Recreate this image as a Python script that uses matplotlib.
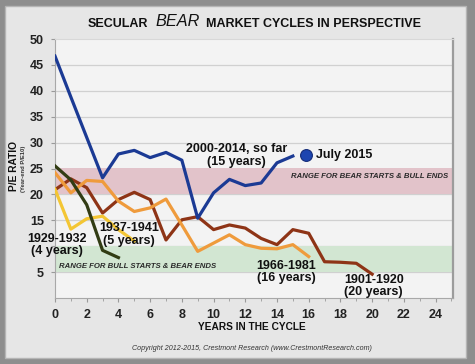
#!/usr/bin/env python

import matplotlib
matplotlib.use('Agg')
import matplotlib.pyplot as plt
from matplotlib.patches import Rectangle

plt.rcParams['font.family'] = ['Liberation Sans', 'DejaVu Sans']

W, H = 475, 364

# P/E10 by year in each secular bear cycle
years_1901 = list(range(21))
pe_1901 = [20.9, 23.0, 21.3, 16.4, 19.0, 20.4, 19.0, 11.2, 15.1, 15.7, 13.2,
           14.1, 13.5, 11.5, 10.3, 13.2, 12.5, 7.0, 6.9, 6.7, 4.6]
years_1966 = list(range(17))
pe_1966 = [24.2, 20.3, 22.7, 22.5, 18.7, 16.7, 17.4, 19.1, 14.1, 9.0, 10.6,
           12.2, 10.3, 9.6, 9.5, 10.3, 8.0]
years_1937 = list(range(6))
pe_1937 = [21.0, 13.3, 15.3, 15.8, 13.2, 11.0]
years_1929 = list(range(5))
pe_1929 = [25.5, 22.8, 18.0, 9.2, 7.8]
years_2000 = list(range(16))
pe_2000 = [46.7, 38.8, 31.0, 23.2, 27.8, 28.5, 27.1, 28.1, 26.6, 15.4, 20.3,
           22.9, 21.7, 22.2, 26.1, 27.4]
july_2015 = (15.8, 27.7)

bear_band = (20, 25)
bull_band = (5, 10)
y_ticks = [5, 10, 15, 20, 25, 30, 35, 40, 45, 50]
y_ticklabels = ['5', '', '15', '20', '25', '30', '35', '40', '45', '50']


def px(x, y):
    # figure pixel (from top-left) -> figure fraction
    return x / W, 1 - y / H


def main():
    fig = plt.figure(figsize=(W / 100, H / 100), dpi=100)
    fig.patch.set_facecolor('#8e8e8e')
    fig.patches.append(Rectangle(px(5, 358), 461 / W, 352 / H,
                                 transform=fig.transFigure,
                                 facecolor='#e6e6e6', edgecolor='#b5b5b5',
                                 lw=1, zorder=-10))

    l, b = px(55, 298)
    r, t = px(453, 39)
    ax = fig.add_axes([l, b, r - l, t - b])
    ax.set_zorder(1)
    ax.set_facecolor('#f3f3f3')
    ax.set_xlim(0, 25.1)
    ax.set_ylim(0, 50)

    ax.axhspan(*bear_band, color='#e2c3ca', lw=0, zorder=1)
    ax.axhspan(*bull_band, color='#d2e6d2', lw=0, zorder=1)
    for y in range(5, 50, 5):
        ax.axhline(y, color='#d0d0d0', lw=0.9, zorder=0.5)

    lw = 2.3
    ax.plot(years_1901, pe_1901, color='#8e3416', lw=lw, zorder=3)
    ax.plot(years_1966, pe_1966, color='#ef9b3c', lw=lw, zorder=3)
    ax.plot(years_1937, pe_1937, color='#f3c634', lw=lw, zorder=3)
    ax.plot(years_1929, pe_1929, color='#323c14', lw=lw, zorder=3)
    ax.plot(years_2000, pe_2000, color='#1b3a94', lw=lw, zorder=4)
    ax.plot(*july_2015, 'o', ms=8.5, color='#1d45b0', mec='#152c78',
            mew=0.8, zorder=5)

    ax.set_xticks(range(0, 25, 2))
    ax.set_xticks(range(0, 26), minor=True)
    ax.set_yticks(y_ticks)
    ax.set_yticklabels(y_ticklabels)
    ax.tick_params(labelsize=9, colors='#9a9a9a', labelcolor='#222222',
                   length=3, width=0.8, pad=5)
    ax.tick_params(which='minor', length=2, colors='#9a9a9a')
    for lab in ax.get_xticklabels() + ax.get_yticklabels():
        lab.set_fontweight('bold')

    for side in ['left', 'bottom']:
        ax.spines[side].set_color('#a8a8a8')
    ax.spines['top'].set_color('#d8d8d8')
    ax.spines['right'].set_color('#9c9c9c')
    ax.spines['right'].set_linewidth(1.6)

    tk = dict(fontsize=9, fontweight='bold', color='#111111', zorder=6,
              linespacing=1.05, clip_on=False)
    ax.text(11.45, 27.5, '2000-2014, so far\n(15 years)', ha='center',
            va='center', **tk)
    ax.text(16.45, 27.7, 'July 2015', ha='left', va='center', **tk)
    ax.text(0.1, 10.2, '1929-1932\n(4 years)', ha='center', va='center', **tk)
    ax.text(4.65, 12.3, '1937-1941\n(5 years)', ha='center', va='center', **tk)
    ax.text(14.6, 5.0, '1966-1981\n(16 years)', ha='center', va='center', **tk)
    ax.text(20.1, 2.3, '1901-1920\n(20 years)', ha='center', va='center', **tk)

    bk = dict(fontsize=5.6, fontweight='bold', style='italic',
              color='#2a2a2a', va='center', zorder=6)
    ax.text(24.8, 23.4, 'RANGE FOR BEAR STARTS & BULL ENDS', ha='right', **bk)
    ax.text(0.25, 6.1, 'RANGE FOR BULL STARTS & BEAR ENDS', ha='left', **bk)

    # title in three pieces, BEAR in larger italic
    fig.text(*px(148, 24), 'SECULAR', ha='right', va='center', fontsize=9,
             fontweight='bold', color='#111111')
    fig.text(*px(177.5, 22), 'BEAR', ha='center', va='center', fontsize=11.7,
             style='italic', color='#111111')
    fig.text(*px(206, 24), 'MARKET CYCLES IN PERSPECTIVE', ha='left',
             va='center', fontsize=9, fontweight='bold', color='#111111')

    fig.text(*px(14, 166.5), 'P/E RATIO', rotation=90, ha='center',
             va='center', fontsize=7.4, fontweight='bold', color='#111111')
    fig.text(*px(23.5, 169), '(Year-end P/E10)', rotation=90, ha='center',
             va='center', fontsize=4.2, fontweight='bold', color='#333333')
    fig.text(*px(252, 327), 'YEARS IN THE CYCLE', ha='center', va='center',
             fontsize=7.3, fontweight='bold', color='#111111')
    fig.text(*px(252, 348),
             'Copyright 2012-2015, Crestmont Research (www.CrestmontResearch.com)',
             ha='center', va='center', fontsize=5.1, style='italic',
             color='#333333')

    fig.savefig('out.png', dpi=100, facecolor=fig.get_facecolor())
    plt.close(fig)


if __name__ == "__main__":
    main()
